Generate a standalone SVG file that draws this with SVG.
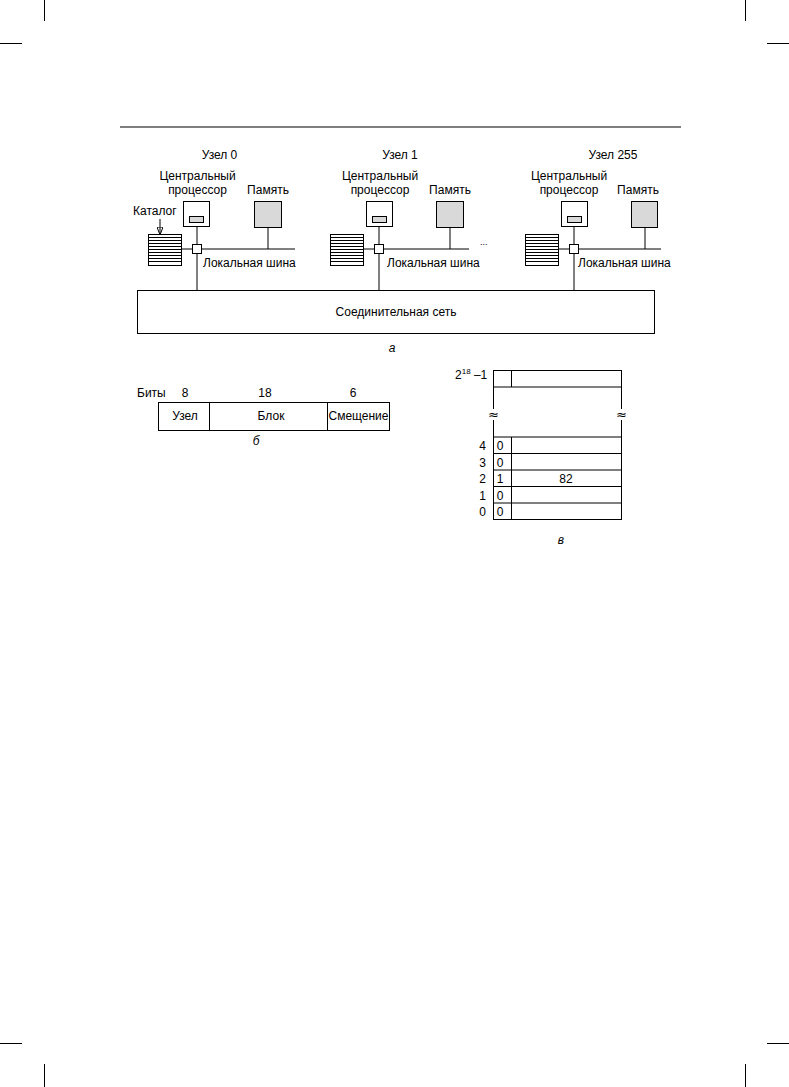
<svg xmlns="http://www.w3.org/2000/svg" width="789" height="1087" viewBox="0 0 789 1087">
<style>
text{font-family:"Liberation Sans",Arial,sans-serif;font-size:12px;fill:#000}
.m{text-anchor:middle}
.e{text-anchor:end}
.i{font-style:italic}
.ap{font-family:"DejaVu Sans",sans-serif;font-size:13px}
.b{fill:none;stroke:#000;stroke-width:1}
.g{fill:#d9d9d9;stroke:#000;stroke-width:1}
.w{fill:#fff;stroke:#000;stroke-width:1}
line,path{stroke:#000;stroke-width:1;fill:none}
</style>
<defs>
<marker id="ah" markerWidth="8" markerHeight="6" refX="7" refY="3" orient="auto" markerUnits="userSpaceOnUse">
<path d="M0,0 L8,3 L0,6 Z" fill="#000" stroke="none"/>
</marker>
<g id="dir">
<rect x="0.5" y="0.5" width="33" height="31" class="w"/>
<path d="M0.5,3.5H33.5M0.5,6.5H33.5M0.5,9.5H33.5M0.5,12.5H33.5M0.5,15.5H33.5M0.5,18.5H33.5M0.5,21.5H33.5M0.5,24.5H33.5M0.5,27.5H33.5"/>
</g>
</defs>
<rect width="789" height="1087" fill="#fff"/>
<g id="crop">
<line x1="44.5" y1="0" x2="44.5" y2="21"/>
<line x1="0" y1="43.5" x2="22" y2="43.5"/>
<line x1="745.5" y1="0" x2="745.5" y2="21"/>
<line x1="767" y1="43.5" x2="789" y2="43.5"/>
<line x1="0" y1="1043.5" x2="22" y2="1043.5"/>
<line x1="44.5" y1="1064" x2="44.5" y2="1087"/>
<line x1="767" y1="1043.5" x2="789" y2="1043.5"/>
<line x1="745.5" y1="1064" x2="745.5" y2="1087"/>
<line x1="120" y1="127" x2="681" y2="127" style="stroke-width:1.2"/>
</g>
<g id="connectors">
<line x1="197" y1="226.5" x2="197" y2="244.5"/>
<line x1="197" y1="253.5" x2="197" y2="290.5"/>
<line x1="201.5" y1="249" x2="295" y2="249"/>
<line x1="268" y1="227.5" x2="268" y2="249"/>
<line x1="181.5" y1="249" x2="192.5" y2="249"/>
<line x1="160" y1="219" x2="160" y2="234" marker-end="url(#ah)"/>
<line x1="379" y1="226.5" x2="379" y2="244.5"/>
<line x1="379" y1="253.5" x2="379" y2="290.5"/>
<line x1="383.5" y1="249" x2="469" y2="249"/>
<line x1="450" y1="227.5" x2="450" y2="249"/>
<line x1="363.5" y1="249" x2="374.5" y2="249"/>
<line x1="574" y1="226.5" x2="574" y2="244.5"/>
<line x1="574" y1="253.5" x2="574" y2="290.5"/>
<line x1="578.5" y1="249" x2="661" y2="249"/>
<line x1="645" y1="227.5" x2="645" y2="249"/>
<line x1="558.5" y1="249" x2="569.5" y2="249"/>
</g>
<g id="node0">
<text class="m" x="219.5" y="159">Узел 0</text>
<text class="m" x="197.5" y="180">Центральный</text>
<text class="m" x="197.5" y="194">процессор</text>
<text class="m" x="268" y="194">Память</text>
<text x="133" y="215">Каталог</text>
<rect x="183.5" y="201.5" width="26" height="25" class="w"/>
<rect x="189.5" y="216.5" width="14" height="6" class="g"/>
<rect x="254.5" y="201.5" width="27" height="26" class="g"/>
<use href="#dir" x="148" y="234"/>
<rect x="192.5" y="244.5" width="9" height="9" class="w"/>
<text x="203" y="267">Локальная шина</text>
</g>
<g id="node1">
<text class="m" x="400" y="159">Узел 1</text>
<text class="m" x="380" y="180">Центральный</text>
<text class="m" x="380" y="194">процессор</text>
<text class="m" x="450" y="194">Память</text>
<rect x="366.5" y="201.5" width="26" height="25" class="w"/>
<rect x="372.5" y="216.5" width="14" height="6" class="g"/>
<rect x="436.5" y="201.5" width="27" height="26" class="g"/>
<use href="#dir" x="330" y="234"/>
<rect x="374.5" y="244.5" width="9" height="9" class="w"/>
<text x="387" y="267">Локальная шина</text>
<text x="480" y="245" style="font-size:9px">...</text>
</g>
<g id="node255">
<text class="m" x="613" y="159">Узел 255</text>
<text class="m" x="569" y="180">Центральный</text>
<text class="m" x="569" y="194">процессор</text>
<text class="m" x="638" y="194">Память</text>
<rect x="561.5" y="201.5" width="26" height="25" class="w"/>
<rect x="567.5" y="216.5" width="14" height="6" class="g"/>
<rect x="631.5" y="201.5" width="26" height="26" class="g"/>
<use href="#dir" x="525" y="234"/>
<rect x="569.5" y="244.5" width="9" height="9" class="w"/>
<text x="578" y="267">Локальная шина</text>
</g>
<g id="network">
<rect x="137.5" y="290.5" width="517" height="43" class="b"/>
<text class="m" x="396" y="316">Соединительная сеть</text>
<text class="m i" x="392" y="352">а</text>
</g>
<g id="address">
<text x="137" y="397">Биты</text>
<text class="m" x="185" y="397">8</text>
<text class="m" x="265" y="397">18</text>
<text class="m" x="353" y="397">6</text>
<rect x="158.5" y="402.5" width="231" height="28" class="b"/>
<line x1="209.5" y1="402.5" x2="209.5" y2="430.5"/>
<line x1="327.5" y1="402.5" x2="327.5" y2="430.5"/>
<text class="m" x="185" y="420">Узел</text>
<text class="m" x="271" y="420">Блок</text>
<text class="m" x="358.5" y="420">Смещение</text>
<text class="m i" x="256" y="445">б</text>
</g>
<g id="directory">
<text x="455" y="379">2<tspan dy="-5" style="font-size:8px">18</tspan><tspan dy="5"> –1</tspan></text>
<rect x="493.5" y="370.5" width="128" height="16.5" class="b"/>
<line x1="511.5" y1="370.5" x2="511.5" y2="387"/>
<line x1="493.5" y1="387" x2="493.5" y2="409"/>
<line x1="493.5" y1="420" x2="493.5" y2="437"/>
<line x1="621.5" y1="387" x2="621.5" y2="409"/>
<line x1="621.5" y1="420" x2="621.5" y2="437"/>
<text class="m ap" x="493.5" y="419">≈</text>
<text class="m ap" x="621.5" y="419">≈</text>
<rect x="493.5" y="437" width="128" height="82.5" class="b"/>
<line x1="493.5" y1="453.5" x2="621.5" y2="453.5"/>
<line x1="493.5" y1="470" x2="621.5" y2="470"/>
<line x1="493.5" y1="486.5" x2="621.5" y2="486.5"/>
<line x1="493.5" y1="503" x2="621.5" y2="503"/>
<line x1="511.5" y1="437" x2="511.5" y2="519.5"/>
<text class="e" x="486" y="450">4</text>
<text class="e" x="486" y="466.5">3</text>
<text class="e" x="486" y="483">2</text>
<text class="e" x="486" y="499.5">1</text>
<text class="e" x="486" y="516">0</text>
<text class="m" x="500" y="450">0</text>
<text class="m" x="500" y="466.5">0</text>
<text class="m" x="500" y="483">1</text>
<text class="m" x="500" y="499.5">0</text>
<text class="m" x="500" y="516">0</text>
<text class="m" x="566" y="483">82</text>
<text class="m i" x="561" y="544">в</text>
</g>
</svg>
